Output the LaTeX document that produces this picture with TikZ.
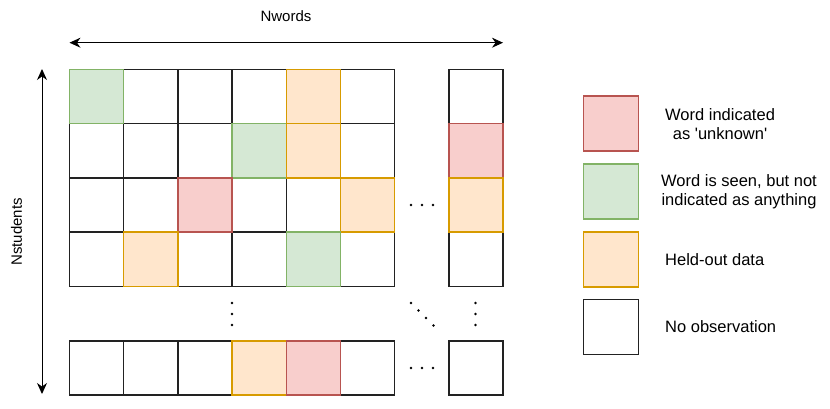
\documentclass[tikz,border=0pt]{standalone}
\usepackage{fontspec}
\setmainfont{Liberation Sans}[Ligatures=TeXOff]
\usetikzlibrary{arrows.meta}
\definecolor{rfill}{HTML}{F8CECC}\definecolor{rdraw}{HTML}{B85450}
\definecolor{gfill}{HTML}{D5E8D4}\definecolor{gdraw}{HTML}{82B366}
\definecolor{ofill}{HTML}{FFE6CC}\definecolor{odraw}{HTML}{D79B00}
\definecolor{kdraw}{HTML}{222222}
\begin{document}
\begin{tikzpicture}[x=1pt,y=-1pt,
  cell/.style={draw=kdraw,line width=1.3pt,fill=white,minimum width=54.2pt,minimum height=54.2pt,inner sep=0pt,outer sep=0pt},
  red/.style={cell,draw=rdraw,fill=rfill},
  grn/.style={cell,draw=gdraw,fill=gfill},
  org/.style={cell,draw=odraw,fill=ofill},
  leg/.style={minimum width=55pt,minimum height=55pt,inner sep=0pt,line width=1.1pt},
  legtxt/.style={anchor=west,align=center,font=\fontsize{16.5}{19}\selectfont,inner sep=0pt},
  axis/.style={font=\fontsize{15}{17}\selectfont},
  arr/.style={{Stealth[length=11pt,width=10pt]}-{Stealth[length=11pt,width=10pt]},line width=1pt},
  dot/.style={fill=black,circle,inner sep=0pt,minimum size=2.8pt}]
\useasboundingbox (0,0) rectangle (830,409);
% white cells of the grid
\foreach \r/\y in {1/96.6,2/150.8,3/205.0,4/259.2,5/368.0}{
  \foreach \c/\x in {1/96.6,2/150.8,3/205.0,4/259.2,5/313.4,6/367.6,7/476.0}{
    \node[cell] (c\r\c) at (\x,\y) {};
  }
}
% coloured cells
\node[grn] (g11) at (96.6,96.6) {};
\node[org] (o15) at (313.4,96.6) {};
\node[grn] (g24) at (259.2,150.8) {};
\node[org] (o25) at (313.4,150.8) {};
\node[red] (r27) at (476.0,150.8) {};
\node[red] (r33) at (205.0,205.0) {};
\node[org] (o36) at (367.6,205.0) {};
\node[org] (o37) at (476.0,205.0) {};
\node[org] (o42) at (150.8,259.2) {};
\node[grn] (g45) at (313.4,259.2) {};
\node[org] (o54) at (259.2,368.0) {};
\node[red] (r55) at (313.4,368.0) {};
% dots
\foreach \x in {411,422,433}{\node[dot] at (\x,205) {}; \node[dot] at (\x,368) {};}
\foreach \y in {303,314,325}{\node[dot] at (232,\y) {}; \node[dot] at (475.5,\y) {};}
\node[dot] at (411,303) {};\node[dot] at (418.5,310.5) {};
\node[dot] at (426,318) {};\node[dot] at (433.5,325.5) {};
% axes
\coordinate (hL) at (69.5,42.7); \coordinate (hR) at (503,42.7);
\draw[arr] (hL) -- (hR);
\coordinate (vT) at (42,69); \coordinate (vB) at (42,394);
\draw[arr] (vT) -- (vB);
\node[axis] (nw) at (286,16.5) {Nwords};
\node[axis,rotate=90] (ns) at (16.5,232) {Nstudents};
% legend
\node[leg,draw=rdraw,fill=rfill] (l1) at (611,123.5) {};
\node[leg,draw=gdraw,fill=gfill] (l2) at (611,191.5) {};
\node[leg,draw=odraw,fill=ofill] (l3) at (611,259.5) {};
\node[leg,draw=kdraw,fill=white] (l4) at (611,327) {};
\node[legtxt] (t1) at (665,124) {Word indicated\\as 'unknown'};
\node[legtxt] (t2) at (661,192) {Word is seen, but not\\indicated as anything};
\node[legtxt] (t3) at (665,260) {Held-out data};
\node[legtxt] (t4) at (665,327) {No observation};
\end{tikzpicture}
\end{document}
